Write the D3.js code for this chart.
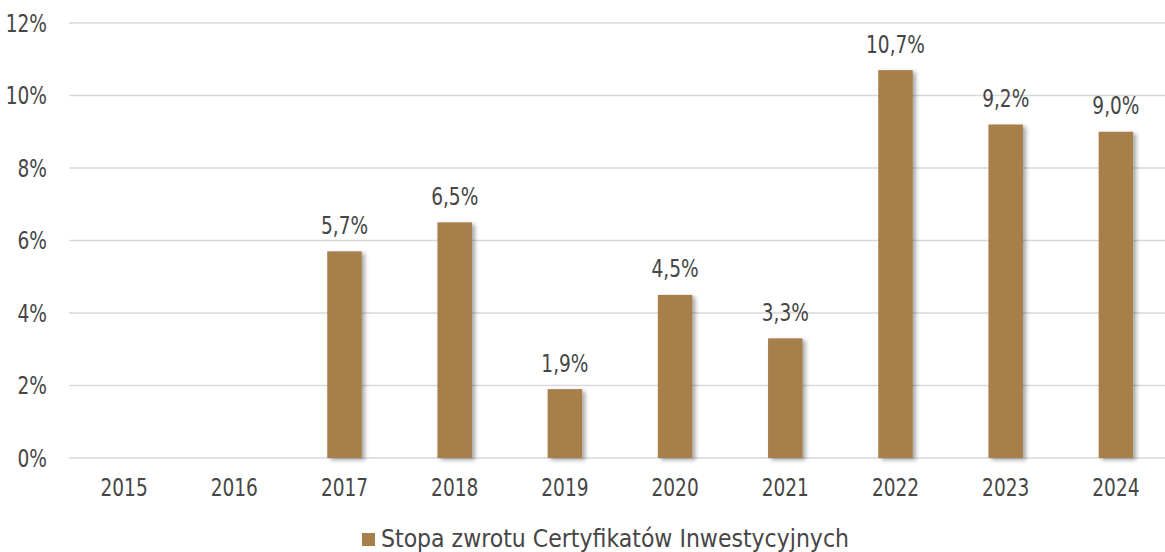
<!DOCTYPE html>
<html>
<head>
<meta charset="utf-8">
<script src="https://cdn.jsdelivr.net/npm/d3@7"></script>
<style>
  body { margin: 0; background: #fff; }
  text { font-family: "DejaVu Sans Condensed", "DejaVu Sans", sans-serif; fill: #464646; font-size: 24px; }
</style>
</head>
<body>
<script>
var years = ["2015", "2016", "2017", "2018", "2019", "2020", "2021", "2022", "2023", "2024"];
var returns = [null, null, 5.7, 6.5, 1.9, 4.5, 3.3, 10.7, 9.2, 9.0];
var yTicks = [0, 2, 4, 6, 8, 10, 12];
var seriesName = "Stopa zwrotu Certyfikatów Inwestycyjnych";

var W = 1165, H = 552;
var margin = {top: 23, right: 0, bottom: 94, left: 69},
    width = W - margin.left - margin.right,
    height = H - margin.top - margin.bottom;

// digits in the original font are narrow, squeeze number labels a bit
var squeeze = 0.86;

var x = d3.scaleBand()
          .domain(years)
          .range([0, 1102])
          .paddingInner(0.687)
          .paddingOuter(0.3435);
var y = d3.scaleLinear()
          .domain([0, 12])
          .range([height, 0]);

var svg = d3.select("body").append("svg")
            .attr("width", W)
            .attr("height", H);

var defs = svg.append("defs");
var f = defs.append("filter").attr("id", "shadow")
            .attr("x", "-20%").attr("y", "-10%").attr("width", "160%").attr("height", "130%");
f.append("feDropShadow")
  .attr("dx", 3).attr("dy", 2).attr("stdDeviation", 2.2)
  .attr("flood-color", "#000").attr("flood-opacity", 0.35);

var g = svg.append("g")
           .attr("transform", "translate(" + margin.left + "," + margin.top + ")");

// gridlines
g.selectAll(".grid")
  .data(yTicks)
  .enter().append("line")
    .attr("x1", 0).attr("x2", width)
    .attr("y1", function(d) { return y(d); })
    .attr("y2", function(d) { return y(d); })
    .attr("stroke", "#d9d9d9")
    .attr("stroke-width", 1.5);

// y labels
g.selectAll(".ylab")
  .data(yTicks)
  .enter().append("text")
    .attr("transform", function(d) { return "translate(-22," + y(d) + ") scale(" + squeeze + ",1)"; })
    .attr("dy", "0.36em")
    .attr("text-anchor", "end")
    .text(function(d) { return d + "%"; });

// bars
var pts = years.map(function(yr, i) { return {year: yr, v: returns[i]}; })
               .filter(function(d) { return d.v != null; });

g.selectAll(".bar")
  .data(pts)
  .enter().append("rect")
    .attr("x", function(d) { return x(d.year); })
    .attr("width", x.bandwidth())
    .attr("y", function(d) { return y(d.v); })
    .attr("height", function(d) { return height - y(d.v); })
    .attr("fill", "#a67f4b")
    .attr("filter", "url(#shadow)");

// value labels
g.selectAll(".val")
  .data(pts)
  .enter().append("text")
    .attr("transform", function(d) {
      return "translate(" + (x(d.year) + x.bandwidth() / 2) + "," + (y(d.v) - 17.5) + ") scale(" + squeeze + ",1)";
    })
    .attr("text-anchor", "middle")
    .text(function(d) { return d.v.toFixed(1).replace(".", ",") + "%"; });

// x labels
g.selectAll(".xlab")
  .data(years)
  .enter().append("text")
    .attr("transform", function(d) {
      return "translate(" + (x(d) + x.bandwidth() / 2) + "," + (height + 29) + ") scale(" + squeeze + ",1)";
    })
    .attr("dy", "0.36em")
    .attr("text-anchor", "middle")
    .text(function(d) { return d; });

// legend
var leg = svg.append("g").attr("transform", "translate(362,533)");
leg.append("rect").attr("width", 13).attr("height", 13).attr("fill", "#a67f4b");
leg.append("text")
   .attr("x", 19).attr("y", 14)
   .style("font-size", "24.5px")
   .text(seriesName);
</script>
</body>
</html>
